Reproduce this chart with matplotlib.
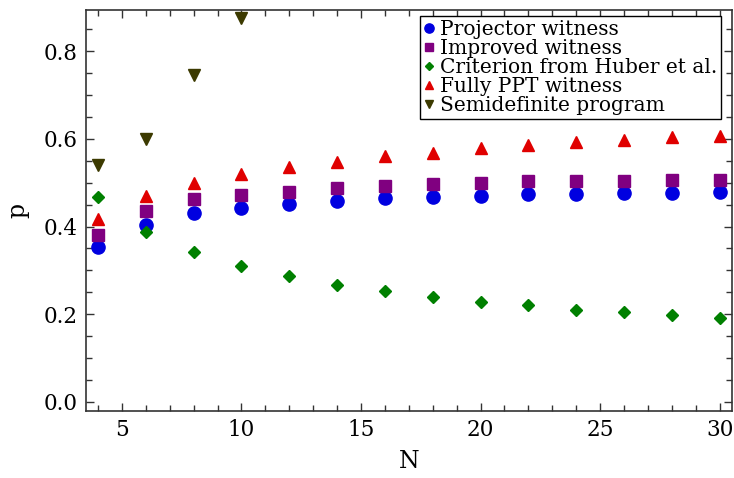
import matplotlib
matplotlib.use("Agg")
import matplotlib.pyplot as plt
from matplotlib.ticker import MultipleLocator

N = [4, 6, 8, 10, 12, 14, 16, 18, 20, 22, 24, 26, 28, 30]
N_sdp = [4, 6, 8, 10]

projector = [0.354, 0.403, 0.430, 0.442, 0.452, 0.458, 0.464, 0.467, 0.470, 0.473, 0.474, 0.476, 0.477, 0.479]
improved = [0.380, 0.435, 0.462, 0.472, 0.478, 0.488, 0.493, 0.497, 0.500, 0.503, 0.503, 0.504, 0.506, 0.507]
huber = [0.468, 0.388, 0.342, 0.310, 0.287, 0.267, 0.253, 0.240, 0.228, 0.220, 0.210, 0.205, 0.199, 0.192]
fullyppt = [0.418, 0.470, 0.500, 0.520, 0.535, 0.548, 0.560, 0.568, 0.578, 0.585, 0.592, 0.598, 0.604, 0.607]
sdp = [0.540, 0.600, 0.745, 0.875]

plt.rcParams['font.family'] = ['DejaVu Serif']
plt.rcParams['mathtext.fontset'] = 'dejavuserif'

fig = plt.figure(figsize=(7.34, 4.78), dpi=100)
ax = fig.add_axes([0.1172, 0.1402, 0.8796, 0.8388])

ax.plot(N, projector, 'o', color='#0000e0', ms=9.5, label='Projector witness', zorder=3)
ax.plot(N, improved, 's', color='#800080', ms=8, label='Improved witness', zorder=3)
ax.plot(N, huber, 'D', color='#008000', ms=6.5, label='Criterion from Huber et al.', zorder=3)
ax.plot(N, fullyppt, '^', color='#e00000', ms=9, label='Fully PPT witness', zorder=4)
ax.plot(N_sdp, sdp, 'v', color='#3c3a00', ms=9, label='Semidefinite program', zorder=4)

ax.set_xlim(3.5, 30.5)
ax.set_ylim(-0.0205, 0.8934)
ax.xaxis.set_major_locator(MultipleLocator(5))
ax.xaxis.set_minor_locator(MultipleLocator(1))
ax.yaxis.set_major_locator(MultipleLocator(0.2))
ax.yaxis.set_minor_locator(MultipleLocator(0.05))
ax.yaxis.set_major_formatter(matplotlib.ticker.FormatStrFormatter('%.1f'))
ax.tick_params(which='both', direction='in', top=True, right=True, width=1.0, color='#333333')
ax.tick_params(which='major', length=6, labelsize=15.5, pad=6)
ax.tick_params(which='minor', length=4)
for s in ax.spines.values():
    s.set_linewidth(1.2)
    s.set_color('#333333')

ax.set_xlabel('N', fontsize=17, labelpad=6)
ax.set_ylabel('p', fontsize=17, labelpad=10)

leg = ax.legend(loc='upper right', bbox_to_anchor=(0.99, 0.995), fontsize=14.5,
                frameon=True, fancybox=False, edgecolor='black', framealpha=1,
                handlelength=0.5, handletextpad=0.3, labelspacing=0.0,
                borderpad=0.2, markerscale=0.7, borderaxespad=0.2)
leg.get_frame().set_linewidth(1.0)

fig.savefig('out.png', dpi=100)
